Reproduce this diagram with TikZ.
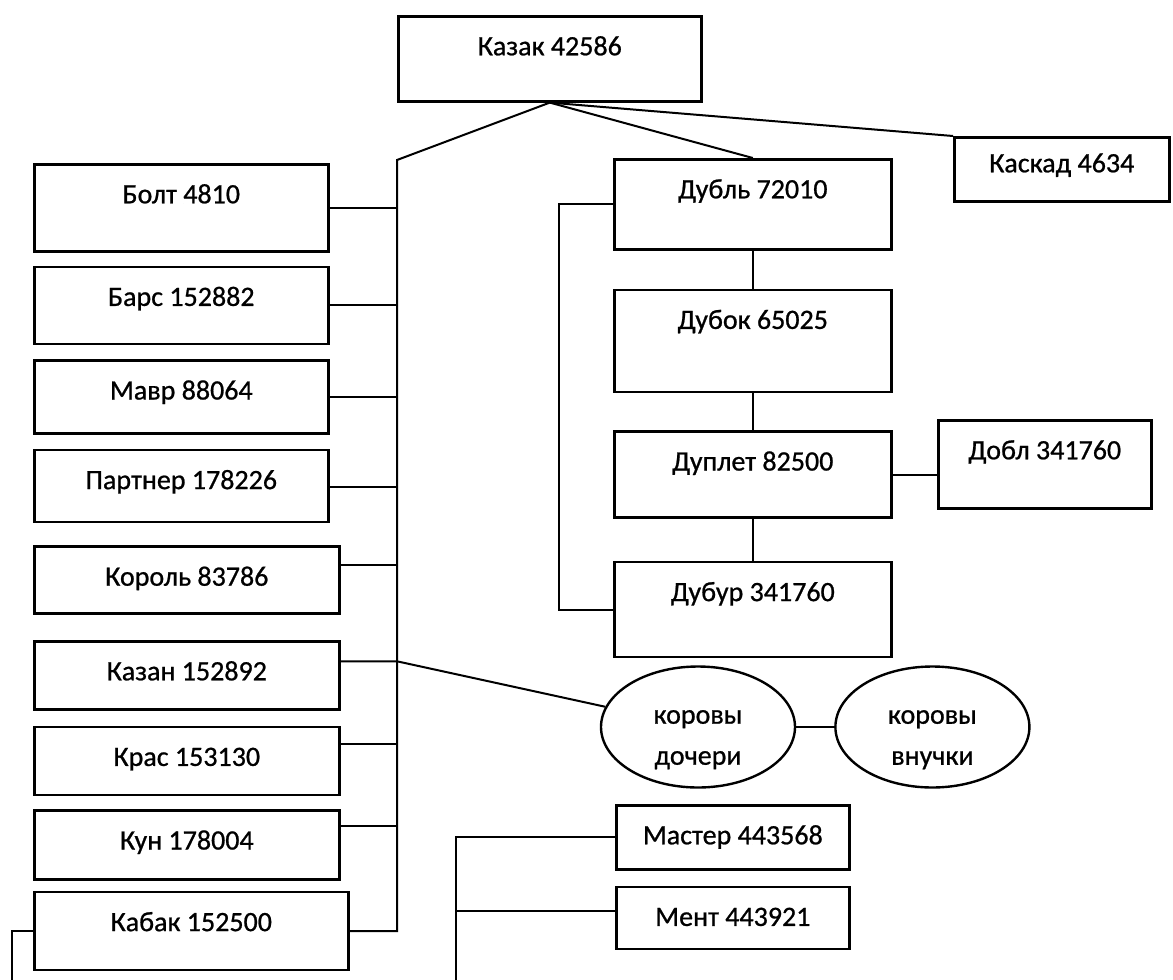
\documentclass[tikz,border=0pt]{standalone}
\usepackage{fontspec}
\setmainfont{Carlito}[FakeBold=0.8]
\usetikzlibrary{positioning,shapes.geometric}

\begin{document}
\begin{tikzpicture}[x=1pt, y=-1pt, line width=2pt,
    font=\fontsize{28}{41}\selectfont,
    cell/.style={draw, line width=2.6pt, anchor=north west, inner ysep=0pt, text height=39pt, text depth=#1},
    cows/.style={draw, ellipse, line width=2.4pt, minimum width=194pt, minimum height=121pt, inner sep=0pt, align=center}]
    \useasboundingbox (0,0) rectangle (1173,980);

    % top
    \node[cell=46pt, minimum width=303pt] (kazak) at (397,15) {Казак 42586};
    \node[cell=29pt, text height=35pt, minimum width=215pt] (kaskad) at (953,136) {Каскад 4634};

    % left column
    \node[cell=48pt, minimum width=294pt] (bolt) at (33,163) {Болт 4810};
    \node[cell=38pt, minimum width=294pt, below=13pt of bolt.south west, anchor=north west] (bars) {Барс 152882};
    \node[cell=34pt, minimum width=294pt, below=14pt of bars.south west, anchor=north west] (mavr) {Мавр 88064};
    \node[cell=33pt, minimum width=294pt, below=14pt of mavr.south west, anchor=north west] (partner) {Партнер 178226};
    \node[cell=28pt, minimum width=305pt, below=22pt of partner.south west, anchor=north west] (korol) {Король 83786};
    \node[cell=29pt, minimum width=305pt, below=25pt of korol.south west, anchor=north west] (kazan) {Казан 152892};
    \node[cell=29pt, minimum width=305pt, below=15pt of kazan.south west, anchor=north west] (kras) {Крас 153130};
    \node[cell=30pt, minimum width=305pt, below=13pt of kras.south west, anchor=north west] (kun) {Кун 178004};
    \node[cell=39pt, minimum width=314pt, below=10pt of kun.south west, anchor=north west] (kabak) {Кабак 152500};

    % right column
    \node[cell=51pt, minimum width=277pt] (dubl) at (613,158) {Дубль 72010};
    \node[cell=63pt, minimum width=277pt, below=38pt of dubl.south west, anchor=north west] (dubok) {Дубок 65025};
    \node[cell=47pt, minimum width=277pt, below=37pt of dubok.south west, anchor=north west] (duplet) {Дуплет 82500};
    \node[cell=56pt, minimum width=277pt, below=42pt of duplet.south west, anchor=north west] (dubur) {Дубур 341760};
    \node[cell=49pt, minimum width=213pt] (dobl) at (937,419) {Добл 341760};

    % cows
    \node[cows] (docheri) at (698,727) {\rule{0pt}{39pt}коровы\\дочери};
    \node[cows, right=38pt of docheri] (vnuchki) {\rule{0pt}{39pt}коровы\\внучки};

    % bottom
    \node[cell=25pt, minimum width=233pt] (master) at (615,804) {Мастер 443568};
    \node[cell=23pt, minimum width=233pt, below=15pt of master.south west, anchor=north west] (ment) {Мент 443921};

    \coordinate (spinetop) at (397,160);
    \coordinate (kbot) at (12,980);
    \coordinate (mbot) at (456,980);

    % links
    \draw (kazak.south) -- (spinetop) -- (spinetop |- kabak.east) -- (kabak.east);
    \draw (kazak.south) -- (dubl.north);
    \draw (kazak.south) -- (kaskad.north west);
    \draw (bolt.east) -- (bolt.east -| spinetop);
    \draw (bars.east) -- (bars.east -| spinetop);
    \draw (mavr.east) -- (mavr.east -| spinetop);
    \draw (partner.mid east) -- (partner.mid east -| spinetop);
    \draw ([yshift=15pt]korol.east) -- ([yshift=15pt]korol.east -| spinetop);
    \draw ([yshift=14pt]kazan.east) coordinate (kz) -- (kz -| spinetop) -- (docheri);
    \draw ([yshift=17pt]kras.east) -- ([yshift=17pt]kras.east -| spinetop);
    \draw ([yshift=19pt]kun.east) -- ([yshift=19pt]kun.east -| spinetop);
    \draw (kabak.west) -| (kbot);

    \draw (dubl.south) -- (dubok.north);
    \draw (dubok.south) -- (duplet.north);
    \draw (duplet.south) -- (dubur.north);
    \draw (duplet.east) -- (dobl.west |- duplet.east);
    \draw (dubl.west) -- ++(-54,0) |- (dubur.west);

    \draw (docheri) -- (vnuchki);
    \draw (master.west) -| (mbot);
    \draw ([yshift=7pt]ment.west) -- ([yshift=7pt]ment.west -| mbot);
\end{tikzpicture}
\end{document}
